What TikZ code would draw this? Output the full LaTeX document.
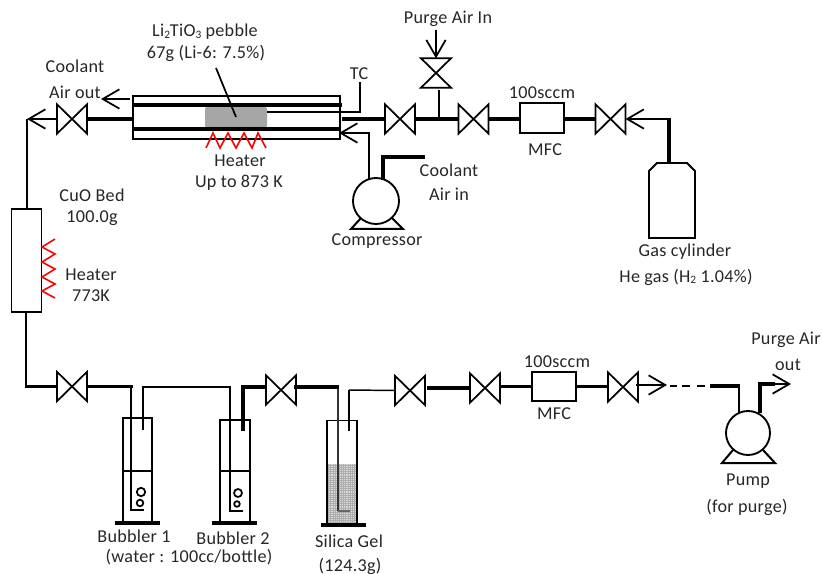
\documentclass[tikz,border=0pt]{standalone}
\usepackage{fontspec}
\setmainfont[LetterSpace=1.5]{Carlito}
\usetikzlibrary{arrows.meta,calc}
\tikzset{
  pipe/.style={line width=1.5pt,draw=black},
  thickpipe/.style={line width=2.3pt,draw=black},
  thinpipe/.style={line width=1.1pt,draw=black},
  flow/.style={thinpipe,-{Straight Barb[length=12.5pt,width=14.5pt,line width=1.3pt]}},
  equip/.style={draw=black,line width=1.4pt,fill=none,inner sep=0pt,outer sep=0pt},
  valvebox/.style={inner sep=0pt,outer sep=0pt,minimum width=22.5pt,minimum height=22pt},
  valveline/.style={draw=black,line width=1.3pt,line join=miter},
  lbl/.style={inner sep=0pt,font=\fontsize{13.6}{15}\selectfont,text=black!85},
  heatline/.style={draw=red,line width=1.2pt}
}
\newcommand{\hvalve}[3]{\node[valvebox] (#1) at (#2,#3) {};
  \draw[valveline] (#1.north west)--(#1.south east)--(#1.north east)--(#1.south west)--cycle;}
\newcommand{\vvalve}[3]{\node[valvebox] (#1) at (#2,#3) {};
  \draw[valveline] (#1.north west)--(#1.south east)--(#1.south west)--(#1.north east)--cycle;}
\newcommand{\lowsub}[1]{\raisebox{-0.2ex}{\fontsize{8.5}{9}\selectfont #1}}
\begin{document}
\begin{tikzpicture}[x=.75pt,y=-.75pt]
\useasboundingbox (0,0) rectangle (822,574);

% ---- reactor
\node[inner sep=0pt,outer sep=0pt,minimum width=155pt,minimum height=32.25pt,equip] (reactor) at (236.5,117.5) {};
\node[fill=black!35,rounded corners=2.5pt,inner sep=0pt,minimum width=46.5pt,minimum height=17.5pt] (pebble) at (236,117.5) {};
\coordinate (inL1) at (133,105); \coordinate (inR1) at (342,105);
\coordinate (inL2) at (133,129); \coordinate (inR2) at (340,129);
\draw[thickpipe] (inL1)--(inR1);
\draw[thickpipe] (inL2)--(inR2);
\coordinate (tcA) at (267,112); \coordinate (tcB) at (360,112); \coordinate (tcC) at (360,82);
\draw[pipe,line width=1.7pt] (tcA)--(tcB)--(tcC);
\coordinate (ptrA) at (216,68); \coordinate (ptrB) at (236,117);
\draw[pipe,line width=1.3pt] (ptrA)--(ptrB);
\draw[heatline] (206,148)--(213,133)--(220,148)--(228,133)--(236,148)--(244,133)--(252,148)--(258,133)--(266,148);

% ---- top line valves
\hvalve{vA}{72}{119}
\hvalve{vB}{400}{119}
\vvalve{vP}{436}{73}
\hvalve{vC}{473.5}{119}
\node[equip,minimum width=33pt,minimum height=22.5pt] (mfcA) at (542,118) {};
\hvalve{vD}{610.5}{119}

\draw[thickpipe] (reactor.west |- vA) -- (vA.east);
\coordinate (corner1) at (27,119);
\draw[flow] (vA.west) -- (corner1);
\coordinate (cooloutS) at (130,99); \coordinate (cooloutT) at (101,99);
\draw[flow] (cooloutS) -- (cooloutT);
\draw[thickpipe] (342,119) -- (vB.west);
\draw[thickpipe] (vB.east) -- (vC.west);
\coordinate (junc) at (439,119);
\draw[pipe] (junc) -- (439,90);
\coordinate (purgeS) at (436,30);
\draw[flow] (purgeS) -- (vP.north);
\draw[thickpipe] (vC.east) -- (mfcA.west |- vC);
\draw[thickpipe] (mfcA.east |- vD) -- (vD.west);

% ---- gas cylinder
\coordinate (cyTop) at (669,163);
\coordinate (cyElbow) at (669,119);
\draw[equip,line join=miter] (649,238)--(649,171)--(657,163)--(687,163)--(695,171)--(695,238)--cycle;
\draw[thickpipe] (cyTop)--(669,118);
\draw[flow] (cyElbow) -- (vD.east);

% ---- compressor
\node[equip,circle,minimum size=34.5pt] (comp) at (376,201) {};
\draw[pipe,line join=miter] (361,218)--(351,229)--(403,229)--(392,218);
\coordinate (coolT) at (339,133);
\draw[flow] (369,180) -- (369,133) -- (coolT);
\draw[thickpipe] (383,180)--(383,157)--(425,157);

% ---- CuO bed
\node[equip,minimum width=22.5pt,minimum height=77.25pt] (cuo) at (26.5,260.5) {};
\draw[pipe] (corner1) -- (corner1 |- cuo.north);
\draw[heatline] (55,239)--(42,247)--(55,254)--(42,262)--(55,269)--(42,277)--(55,284)--(42,291)--(55,298);
\hvalve{vE}{72}{386.5}
\coordinate (corner2) at (26,386.5);
\draw[pipe] (corner2 |- cuo.south) -- (corner2);
\draw[thickpipe] (25,386.5) -- (vE.west);

% ---- bubbler 1
\node[equip,minimum width=22pt,minimum height=78.75pt] (bubA) at (137.5,470.5) {};
\draw[thickpipe] (115,523)--(160,523);
\draw[thickpipe,line width=2pt] (123,471)--(152,471);
\draw[pipe,line width=1.6pt] (131,387)--(131,510)--(144,510);
\draw[line width=1.3pt] (141,492) circle[radius=4.2] (140,503) circle[radius=3.3];
% ---- bubbler 2
\node[equip,minimum width=22pt,minimum height=77pt] (bubB) at (235,471) {};
\draw[thickpipe] (212,523)--(257,523);
\draw[thickpipe,line width=2pt] (220,471)--(250,471);
\draw[pipe,line width=1.3pt] (230,387)--(230,511)--(243,511);
\draw[line width=1.3pt] (238,493) circle[radius=4] (237,504) circle[radius=2.8];
% ---- silica gel
\node[fill=black!14,inner sep=0pt,minimum width=22pt,minimum height=45pt] (gel) at (342,494) {};
\begin{scope}
\clip (gel.south west) rectangle (gel.north east);
\draw[draw=black!32,line width=.3pt,step=1.6pt] (gel.south west) grid (gel.north east);
\end{scope}
\node[equip,minimum width=22pt,minimum height=78pt] (bubC) at (342,472.5) {};
\draw[thickpipe] (321,525)--(366,525);
\draw[line width=1.1pt,draw=black!80] (338,387)--(338,511);
\draw[line width=.8pt,draw=black!60] (338,511)--(350,511);

% ---- lower line
\draw[thickpipe] (vE.east) -- (133,386.5);
\draw[pipe,line width=1.9pt] (143,430)--(143,387)--(231,387);
\hvalve{vF}{281}{390}
\draw[thickpipe] (243,431)--(243,387)--(265,387);
\draw[thickpipe] (294,387) -- (339,387);
\hvalve{vG}{410}{390.5}
\draw[pipe,line width=2.1pt] (349,431)--(349,390);
\draw[thinpipe] (349,390) -- (vG.west);
\hvalve{vH}{485}{388}
\draw[thickpipe] (427,388) -- (vH.west);
\node[equip,minimum width=33pt,minimum height=22pt] (mfcB) at (554,386.5) {};
\hvalve{vI}{623}{387}
\draw[thickpipe] (vH.east |- mfcB) -- (mfcB.west);
\draw[thickpipe] (mfcB.east) -- (vI.west |- mfcB);
\coordinate (arrT) at (667,385);
\draw[flow] (636,385) -- (arrT);
\draw[line width=1.1pt] (670,386)--(677,386) (682,386)--(690,386) (697,386)--(705,386);

% ---- pump
\node[equip,circle,minimum size=33pt] (pump) at (748,433) {};
\draw[pipe,line join=miter] (733,450)--(722,463)--(775,463)--(763,450);
\draw[thickpipe] (710,386)--(740,386);
\draw[pipe] (739,386)--(739,413);
\coordinate (pumpOut) at (791,384);
\draw[thickpipe] (760,413)--(760,384)--(775,384);
\draw[flow] (760,384)--(pumpOut);

% ---- labels
\node[lbl] (t1) at (205,32) {Li\lowsub{2}TiO\lowsub{3} pebble};
\node[lbl] (t2) at (206,53) {67g (Li-6: 7.5\%)};
\node[lbl] (t3) at (75,66) {Coolant};
\node[lbl] (t4) at (75,92) {Air out};
\node[lbl] (t5) at (359,74) {TC};
\node[lbl] (t6) at (240,161) {Heater};
\node[lbl] (t7) at (239,183) {Up to 873 K};
\node[lbl] (t8) at (448,19) {Purge Air In};
\node[lbl] (t9) at (542,93) {100sccm};
\node[lbl] (t10) at (545,150) {MFC};
\node[lbl] (t11) at (449,170) {Coolant};
\node[lbl] (t12) at (449,194) {Air in};
\node[lbl] (t13) at (377,241) {Compressor};
\node[lbl] (t14) at (685,252) {Gas cylinder};
\node[lbl] (t15) at (686,277) {He gas (H\lowsub{2} 1.04\%)};
\node[lbl] (t16) at (92,195) {CuO Bed};
\node[lbl] (t17) at (92,218) {100.0g};
\node[lbl] (t18) at (91,275) {Heater};
\node[lbl] (t19) at (91,296) {773K};
\node[lbl] (t20) at (134,536) {Bubbler 1};
\node[lbl] (t21) at (233,538) {Bubbler 2};
\node[lbl] (t22) at (189,557) {(water : 100cc/bottle)};
\node[lbl] (t23) at (349,541) {Silica Gel};
\node[lbl] (t24) at (350,566) {(124.3g)};
\node[lbl] (t25) at (557,362) {100sccm};
\node[lbl] (t26) at (554,414) {MFC};
\node[lbl] (t27) at (786,340) {Purge Air};
\node[lbl] (t28) at (788,365) {out};
\node[lbl] (t29) at (748,481) {Pump};
\node[lbl] (t30) at (747,507) {(for purge)};
\end{tikzpicture}
\end{document}
